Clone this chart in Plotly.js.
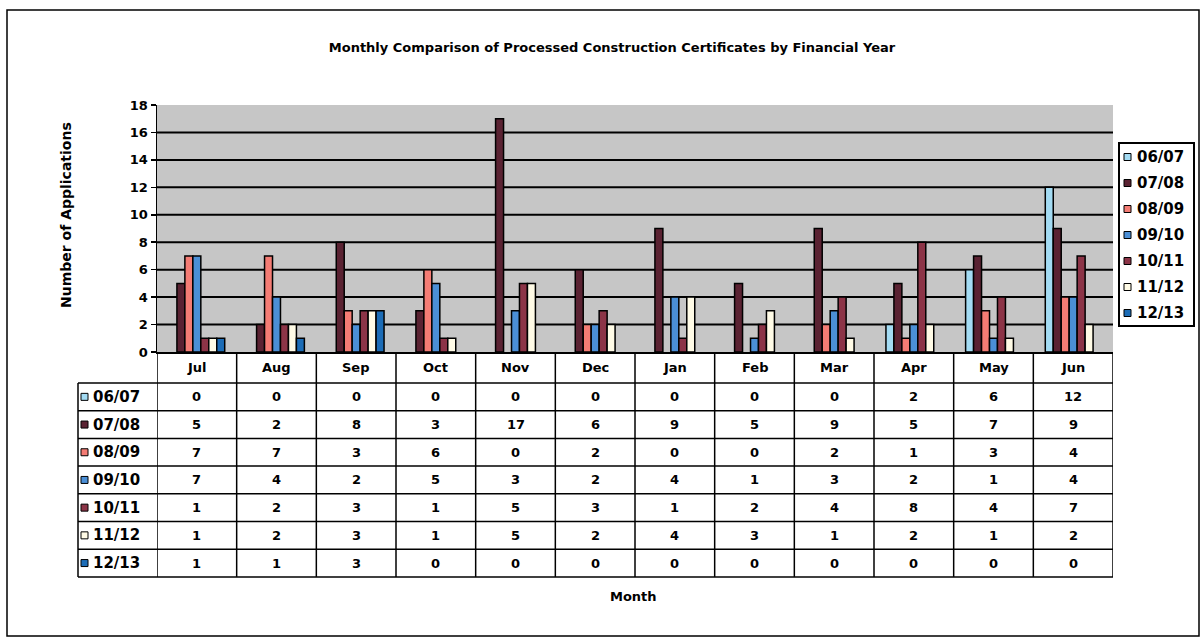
<!DOCTYPE html>
<html>
<head>
<meta charset="utf-8">
<script src="https://cdn.plot.ly/plotly-3.0.1.min.js"></script>
<style>html,body{margin:0;padding:0;background:#fff;}#chart{width:1204px;height:639px;}</style>
</head>
<body>
<div id="chart"></div>
<script>
// ---- data ----
const months = ['Jul','Aug','Sep','Oct','Nov','Dec','Jan','Feb','Mar','Apr','May','Jun'];
const years = ['06/07','07/08','08/09','09/10','10/11','11/12','12/13'];
const fy0607 = [0,0,0,0,0,0,0,0,0,2,6,12];
const fy0708 = [5,2,8,3,17,6,9,5,9,5,7,9];
const fy0809 = [7,7,3,6,0,2,0,0,2,1,3,4];
const fy0910 = [7,4,2,5,3,2,4,1,3,2,1,4];
const fy1011 = [1,2,3,1,5,3,1,2,4,8,4,7];
const fy1112 = [1,2,3,1,5,2,4,3,1,2,1,2];
const fy1213 = [1,1,3,0,0,0,0,0,0,0,0,0];
const yTicks = [0,2,4,6,8,10,12,14,16,18];
const series = [fy0607, fy0708, fy0809, fy0910, fy1011, fy1112, fy1213];

// ---- styles ----
const colors = ['#a3dbf3','#5a2232','#f47c74','#4b8fd6','#8c3447','#fffbe6','#1c6cb6'];
const FONT = 'DejaVu Sans, Verdana, sans-serif';
const W = 1204, H = 639;
const P = {l:157, r:91, t:105, b:287};
const PW = W - P.l - P.r, PH = H - P.t - P.b;
const px2x = px => (px - P.l) / PW;
const px2y = py => (P.t + PH - py) / PH;

// zero-height bars are not drawn (no outline stub at the baseline)
const traces = years.map((yr, i) => ({
  type: 'bar',
  name: yr,
  x: months,
  y: series[i].map(v => (v === 0 ? null : v)),
  marker: {color: colors[i], line: {color: '#000', width: 1.5}},
  hoverinfo: 'x+y+name'
}));

const shapes = [];
const annotations = [];
const LW = 1.5;

// horizontal grid lines (not at the top edge)
yTicks.filter(v => v > 0 && v < 18).forEach(v => {
  shapes.push({type:'line', xref:'paper', yref:'y', x0:0, x1:1, y0:v, y1:v, layer:'below', line:{color:'#000', width:2}});
});

// table geometry
const headTop = 352, headBot = 383, rowH = 27.7, tabLeft = 78, tabRight = P.l + PW;
const nRows = years.length;
const tabBot = headBot + nRows * rowH;

for (let i = 0; i <= nRows; i++) {
  const y = px2y(headBot + i * rowH);
  shapes.push({type:'line', xref:'paper', yref:'paper', x0:px2x(tabLeft), x1:px2x(tabRight), y0:y, y1:y, line:{color:'#000', width:LW}});
}
for (let i = 0; i <= months.length; i++) {
  shapes.push({type:'line', xref:'x', yref:'paper', x0:i - 0.5, x1:i - 0.5, y0:px2y(headTop), y1:px2y(tabBot), line:{color:'#000', width:LW}});
}
shapes.push({type:'line', xref:'paper', yref:'paper', x0:px2x(tabLeft), x1:px2x(tabLeft), y0:px2y(headBot), y1:px2y(tabBot), line:{color:'#000', width:LW}});

months.forEach((m, j) => {
  annotations.push({xref:'x', yref:'paper', x:j, y:px2y((headTop + headBot) / 2), text:m, showarrow:false,
    font:{family:FONT, size:13, color:'#000', weight:'bold'}, xanchor:'center', yanchor:'middle'});
});

years.forEach((yr, i) => {
  const cy = headBot + (i + 0.5) * rowH;
  shapes.push({type:'rect', xref:'paper', yref:'paper', x0:px2x(81), x1:px2x(88), y0:px2y(cy + 3.5), y1:px2y(cy - 3.5),
    fillcolor:colors[i], line:{color:'#000', width:1}});
  annotations.push({xref:'paper', yref:'paper', x:px2x(91), y:px2y(cy), text:yr, showarrow:false,
    font:{family:FONT, size:15, color:'#000', weight:'bold'}, xanchor:'left', yanchor:'middle'});
  series[i].forEach((v, j) => {
    annotations.push({xref:'x', yref:'paper', x:j, y:px2y(cy), text:String(v), showarrow:false,
      font:{family:FONT, size:13, color:'#000', weight:'bold'}, xanchor:'center', yanchor:'middle'});
  });
});

// manual legend
const lg = {l:1119, r:1194, t:143, b:326};
shapes.push({type:'rect', xref:'paper', yref:'paper', x0:px2x(lg.l), x1:px2x(lg.r), y0:px2y(lg.b), y1:px2y(lg.t),
  fillcolor:'#fff', line:{color:'#000', width:2}});
years.forEach((yr, i) => {
  const cy = 157 + i * 26;
  shapes.push({type:'rect', xref:'paper', yref:'paper', x0:px2x(1124), x1:px2x(1131), y0:px2y(cy + 3.5), y1:px2y(cy - 3.5),
    fillcolor:colors[i], line:{color:'#000', width:1}});
  annotations.push({xref:'paper', yref:'paper', x:px2x(1135), y:px2y(cy), text:yr, showarrow:false,
    font:{family:FONT, size:15, color:'#000', weight:'bold'}, xanchor:'left', yanchor:'middle'});
});

annotations.push({xref:'paper', yref:'paper', x:px2x(633), y:px2y(596), text:'Month', showarrow:false,
  font:{family:FONT, size:13, color:'#000', weight:'bold'}, xanchor:'center', yanchor:'middle'});
annotations.push({xref:'paper', yref:'paper', x:px2x(66), y:px2y(215), text:'Number of Applications', showarrow:false, textangle:-90,
  font:{family:FONT, size:14, color:'#000', weight:'bold'}, xanchor:'center', yanchor:'middle'});

shapes.push({type:'rect', xref:'paper', yref:'paper', x0:px2x(7), x1:px2x(1199), y0:px2y(636), y1:px2y(10),
  fillcolor:'rgba(0,0,0,0)', line:{color:'#000', width:1.5}, layer:'below'});

const layout = {
  width: W, height: H,
  margin: {l:P.l, r:P.r, t:P.t, b:P.b, pad:0},
  paper_bgcolor: '#fff',
  plot_bgcolor: '#c6c6c6',
  showlegend: false,
  barmode: 'group',
  bargap: 0.3,
  bargroupgap: 0,
  title: {text:'Monthly Comparison of Processed Construction Certificates by Financial Year',
    font:{family:FONT, size:13, color:'#000', weight:'bold'},
    xref:'paper', x:px2x(612), xanchor:'center', yref:'container', y:1 - 47/H, yanchor:'middle'},
  xaxis: {type:'category', categoryorder:'array', categoryarray:months, range:[-0.5, 11.5],
    showticklabels:false, showgrid:false, zeroline:false, showline:true, linecolor:'#000', linewidth:LW, ticks:''},
  yaxis: {range:[0, 18], tickvals:yTicks, ticktext:yTicks.map(String),
    tickfont:{family:FONT, size:13, color:'#000', weight:'bold'},
    showgrid:false, zeroline:false,
    showline:true, linecolor:'#000', linewidth:LW, ticks:'outside', ticklen:5, tickwidth:1.5, tickcolor:'#000'},
  shapes: shapes,
  annotations: annotations
};

Plotly.newPlot('chart', traces, layout, {displayModeBar:false, staticPlot:true});
</script>
</body>
</html>
